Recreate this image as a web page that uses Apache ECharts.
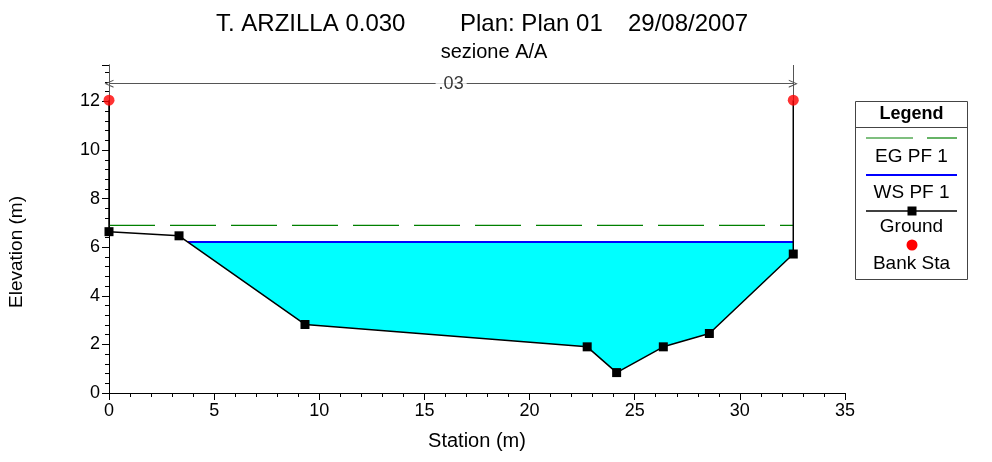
<!DOCTYPE html>
<html><head><meta charset="utf-8">
<script src="https://cdn.jsdelivr.net/npm/echarts@6/dist/echarts.min.js"></script>
<style>html,body{margin:0;padding:0;background:#fff}#c{width:992px;height:462px}</style>
</head><body><div id="c"></div>
<script>
// ---- data ----
const groundStation = [0, 0, 3.33, 9.32, 22.74, 24.14, 26.36, 28.55, 32.54, 32.54];
const groundElev    = [12.05, 6.64, 6.47, 2.82, 1.90, 0.84, 1.90, 2.45, 5.72, 12.05];
const bankStation = [0, 32.54];
const bankElev    = [12.05, 12.05];
const wsElev = 6.21;
const egElev = 6.90;
const nValueLabel = '.03';
const nValueElev = 12.73;
const xTicks = [0, 5, 10, 15, 20, 25, 30, 35];
const yTicks = [0, 2, 4, 6, 8, 10, 12];
const yTop = 13.5;
const titleParts = ['T. ARZILLA 0.030', 'Plan: Plan 01', '29/08/2007'];
const subtitle = 'sezione A/A';
const xName = 'Station (m)';
const yName = 'Elevation (m)';
const legendItems = ['EG PF 1', 'WS PF 1', 'Ground', 'Bank Sta'];

// ---- derived ----
const ground = groundStation.map((s, i) => [s, groundElev[i]]);
const waterPoly = [];
for (let i = 0; i < ground.length - 1; i++) {
  const a = ground[i], b = ground[i + 1];
  if (a[1] <= wsElev) waterPoly.push(a);
  if ((a[1] - wsElev) * (b[1] - wsElev) < 0) {
    const t = (wsElev - a[1]) / (b[1] - a[1]);
    waterPoly.push([a[0] + t * (b[0] - a[0]), wsElev]);
  }
}
const last = ground[ground.length - 1];
if (last[1] <= wsElev) waterPoly.push(last);
const wsLine = [[waterPoly[0][0], wsElev], [waterPoly[waterPoly.length - 1][0], wsElev]];
const egLine = [[bankStation[0], egElev], [bankStation[1], egElev]];
const isBank = (p) => bankStation.some((s, i) => s === p[0] && bankElev[i] === p[1]);

const FONT = '"Liberation Sans", Arial, sans-serif';
const chart = echarts.init(document.getElementById('c'), null, {renderer: 'canvas'});

const chevron = 'path://M5,0 L10,10 L8.6,10 L5,2.6 L1.4,10 L0,10 Z';

const txt = (x, y, text, size, extra) => ({type: 'text', x: x, y: y,
  style: Object.assign({text: text, fontSize: size, fontFamily: FONT, fill: '#000', align: 'center', verticalAlign: 'middle'}, extra || {})});

chart.setOption({
  animation: false,
  backgroundColor: '#fff',
  textStyle: {fontFamily: FONT},
  grid: {left: 109, right: 147, top: 65, bottom: 69, containLabel: false},
  xAxis: {
    type: 'value', min: xTicks[0], max: xTicks[xTicks.length - 1], interval: xTicks[1] - xTicks[0],
    axisLine: {show: true, onZero: false, lineStyle: {color: '#000', width: 1}},
    axisTick: {show: true, length: 7, lineStyle: {color: '#000'}},
    minorTick: {show: true, splitNumber: 5, length: 4, lineStyle: {color: '#000'}},
    splitLine: {show: false},
    axisLabel: {color: '#000', fontSize: 18, margin: 9, fontFamily: FONT}
  },
  yAxis: {
    type: 'value', min: yTicks[0], max: yTop, interval: yTicks[1] - yTicks[0],
    axisLine: {show: true, onZero: false, lineStyle: {color: '#000', width: 1}},
    axisTick: {show: true, length: 7, lineStyle: {color: '#000'}},
    minorTick: {show: true, splitNumber: 5, length: 4, lineStyle: {color: '#000'}},
    splitLine: {show: false},
    axisLabel: {color: '#000', fontSize: 18, margin: 9, fontFamily: FONT, showMaxLabel: false}
  },
  series: [
    {
      type: 'custom', name: 'water', silent: true, z: 1,
      data: [[0, 0]],
      renderItem: (params, api) => ({
        type: 'polygon',
        shape: {points: waterPoly.map(p => api.coord(p))},
        style: {fill: '#00ffff', stroke: null}
      })
    },
    {
      type: 'line', name: legendItems[0], data: egLine, symbol: 'none', z: 3,
      lineStyle: {color: '#008000', width: 1.2, type: [46, 15]}
    },
    {
      type: 'line', name: legendItems[1], data: wsLine, symbol: 'none', z: 3,
      lineStyle: {color: '#0000ff', width: 2}
    },
    {
      type: 'line', name: legendItems[2], data: ground, z: 4,
      symbol: 'rect',
      symbolSize: (v) => isBank(v) ? 0 : 9,
      itemStyle: {color: '#000'},
      lineStyle: {color: '#000', width: 1.5}
    },
    {
      type: 'scatter', name: legendItems[3], z: 6,
      data: bankStation.map((s, i) => [s, bankElev[i]]),
      symbol: 'circle', symbolSize: 11, itemStyle: {color: '#ff0000'}
    },
    {
      type: 'line', name: 'nvalue', data: [], z: 2, silent: true,
      markLine: {
        silent: true, animation: false,
        label: {show: false},
        lineStyle: {color: '#555', width: 1, type: 'solid'},
        data: [
          [{coord: [bankStation[0], nValueElev], symbol: chevron, symbolSize: [8, 9]},
           {coord: [bankStation[1], nValueElev], symbol: chevron, symbolSize: [8, 9]}],
          [{coord: [bankStation[0], bankElev[0]], symbol: 'none'}, {coord: [bankStation[0], yTop], symbol: 'none'}],
          [{coord: [bankStation[1], bankElev[1]], symbol: 'none'}, {coord: [bankStation[1], yTop], symbol: 'none'}]
        ]
      }
    },
    {
      type: 'scatter', name: 'nlabel', z: 5, silent: true,
      data: [[(bankStation[0] + bankStation[1]) / 2, nValueElev]],
      symbolSize: 1, itemStyle: {color: 'rgba(0,0,0,0)'},
      label: {show: true, position: 'inside', formatter: nValueLabel, color: '#000',
        fontSize: 18, fontFamily: FONT, backgroundColor: '#fff', padding: [0, 3]}
    }
  ],
  graphic: [
    {type: 'text', x: 216, y: 24, style: {text: titleParts[0], fontSize: 24, fontFamily: FONT, fill: '#000', align: 'left', verticalAlign: 'middle'}},
    {type: 'text', x: 460, y: 24, style: {text: titleParts[1], fontSize: 24, fontFamily: FONT, fill: '#000', align: 'left', verticalAlign: 'middle'}},
    {type: 'text', x: 628, y: 24, style: {text: titleParts[2], fontSize: 24, fontFamily: FONT, fill: '#000', align: 'left', verticalAlign: 'middle'}},
    txt(494, 52, subtitle, 20),
    txt(477, 441, xName, 20),
    Object.assign(txt(17, 252, yName, 19), {rotation: Math.PI / 2}),
    // legend box
    {type: 'rect', shape: {x: 855.5, y: 101.5, width: 112, height: 178}, style: {fill: '#fff', stroke: '#444', lineWidth: 1}},
    {type: 'line', shape: {x1: 855.5, y1: 127.5, x2: 968, y2: 127.5}, style: {stroke: '#444', lineWidth: 1}},
    txt(911.5, 114, 'Legend', 18, {fontWeight: 'bold'}),
    {type: 'line', shape: {x1: 866, y1: 138, x2: 913, y2: 138}, style: {stroke: '#008000', lineWidth: 1.2}},
    {type: 'line', shape: {x1: 927, y1: 138, x2: 957, y2: 138}, style: {stroke: '#008000', lineWidth: 1.2}},
    txt(911.5, 157, legendItems[0], 19),
    {type: 'line', shape: {x1: 866, y1: 175, x2: 957, y2: 175}, style: {stroke: '#0000ff', lineWidth: 2}},
    txt(911.5, 193, legendItems[1], 19),
    {type: 'line', shape: {x1: 866, y1: 211, x2: 957, y2: 211}, style: {stroke: '#000', lineWidth: 1.5}},
    {type: 'rect', shape: {x: 907.5, y: 206.5, width: 9, height: 9}, style: {fill: '#000'}},
    txt(911.5, 227, legendItems[2], 19),
    {type: 'circle', shape: {cx: 912, cy: 245, r: 5.5}, style: {fill: '#ff0000'}},
    txt(911.5, 264, legendItems[3], 19)
  ]
});
</script>
</body></html>
